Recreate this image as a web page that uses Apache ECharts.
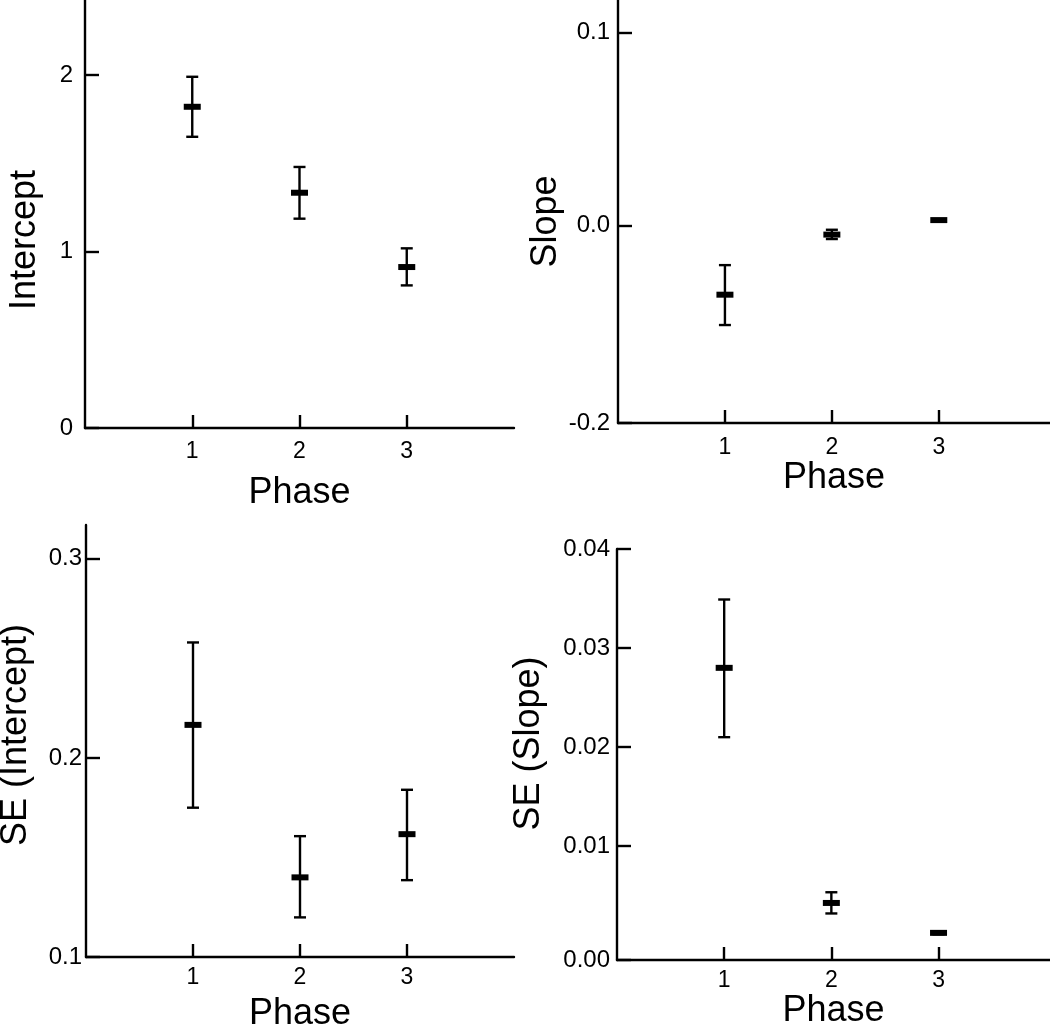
<!DOCTYPE html>
<html>
<head>
<meta charset="utf-8">
<script src="https://cdn.jsdelivr.net/npm/echarts@6/dist/echarts.min.js"></script>
<style>
html,body{margin:0;padding:0;background:#fff;}
#chart{width:1050px;height:1027px;}
</style>
</head>
<body>
<div id="chart"></div>
<script>
// ---- data ----
const phases = [1, 2, 3];
const phaseTickLabels = ['1', '2', '3'];

const interceptMean  = [1.82, 1.333, 0.912];
const interceptLow   = [1.65, 1.186, 0.808];
const interceptHigh  = [1.99, 1.479, 1.018];

const slopeMean  = [-0.0358, -0.0047, 0.0028];
const slopeLow   = [-0.0515, -0.0070, 0.0024];
const slopeHigh  = [-0.0205, -0.0022, 0.0032];

const seInterceptMean = [0.2166, 0.140, 0.1617];
const seInterceptLow  = [0.175, 0.1199, 0.1386];
const seInterceptHigh = [0.258, 0.1607, 0.184];

const seSlopeMean = [0.0280, 0.00426, 0.00124];
const seSlopeLow  = [0.0210, 0.0032, 0.0011];
const seSlopeHigh = [0.0349, 0.00534, 0.0014];

// tick values and the labels printed at them
const interceptTickValues = [0, 1, 2];
const interceptTickLabels = ['0', '1', '2'];
const slopeTickValues = [-0.1022, 0.0, 0.1];
const slopeTickLabels = ['-0.2', '0.0', '0.1'];
const seInterceptTickValues = [0.1, 0.2, 0.3];
const seInterceptTickLabels = ['0.1', '0.2', '0.3'];
const seSlopeTickValues = [-0.0015, 0.01, 0.02, 0.03, 0.04];
const seSlopeTickLabels = ['0.00', '0.01', '0.02', '0.03', '0.04'];

// ---- chart ----
const FONT = '"Liberation Sans", Arial, sans-serif';

function rows(mean, low, high) {
  return phases.map((p, i) => [p, mean[i], low[i], high[i]]);
}
function labeler(values, labels) {
  return function (v) {
    let best = 0;
    for (let i = 1; i < values.length; i++) {
      if (Math.abs(values[i] - v) < Math.abs(values[best] - v)) best = i;
    }
    return labels[best];
  };
}
function renderErr(params, api) {
  const x = api.value(0);
  const pm = api.coord([x, api.value(1)]);
  const pl = api.coord([x, api.value(2)]);
  const ph = api.coord([x, api.value(3)]);
  const cap = 6, mw = 17, mh = 6;
  const st = { stroke: '#000', lineWidth: 2.4 };
  return {
    type: 'group',
    children: [
      { type: 'line', shape: { x1: pl[0], y1: pl[1], x2: ph[0], y2: ph[1] }, style: st },
      { type: 'line', shape: { x1: pl[0] - cap, y1: pl[1], x2: pl[0] + cap, y2: pl[1] }, style: st },
      { type: 'line', shape: { x1: ph[0] - cap, y1: ph[1], x2: ph[0] + cap, y2: ph[1] }, style: st },
      { type: 'rect', shape: { x: pm[0] - mw / 2, y: pm[1] - mh / 2, width: mw, height: mh }, style: { fill: '#000' } }
    ]
  };
}

const axisLineStyle = { show: true, onZero: false, lineStyle: { color: '#000', width: 2.4 } };

function xAxisFor(gridIndex, max, labelMargin, nameGap) {
  return {
    gridIndex, type: 'value', min: 0, max,
    name: 'Phase', nameLocation: 'middle', nameGap,
    nameTextStyle: { fontFamily: FONT, fontSize: 36, color: '#000' },
    axisLine: axisLineStyle,
    axisTick: { show: true, inside: true, length: 13, lineStyle: { color: '#000', width: 2.4 }, customValues: phases },
    axisLabel: { show: true, margin: labelMargin, fontFamily: FONT, fontSize: 23, color: '#000',
      customValues: phases, formatter: labeler(phases, phaseTickLabels) },
    splitLine: { show: false }
  };
}
function yAxisFor(gridIndex, min, max, name, nameGap, shift, tickValues, tickLabels, labelMargin) {
  // shift > 0 moves the name down on screen, < 0 moves it up
  const pad = shift >= 0 ? [0, 2 * shift, 0, 0] : [0, 0, 0, -2 * shift];
  return {
    gridIndex, type: 'value', min, max,
    name, nameLocation: 'middle', nameGap,
    nameTextStyle: { fontFamily: FONT, fontSize: 36, color: '#000', padding: pad },
    axisLine: axisLineStyle,
    axisTick: { show: true, inside: true, length: 14, lineStyle: { color: '#000', width: 2.4 }, customValues: tickValues },
    axisLabel: { show: true, margin: labelMargin, fontFamily: FONT, fontSize: 24, color: '#000',
      customValues: tickValues, formatter: labeler(tickValues, tickLabels) },
    splitLine: { show: false }
  };
}

const chart = echarts.init(document.getElementById('chart'), null, { renderer: 'canvas' });
chart.setOption({
  backgroundColor: '#fff',
  animation: false,
  grid: [
    { left: 85, top: 0, width: 429, height: 428, outerBoundsMode: 'none', containLabel: false },
    { left: 618, top: 0, width: 432, height: 423, outerBoundsMode: 'none', containLabel: false },
    { left: 86, top: 525, width: 428, height: 432, outerBoundsMode: 'none', containLabel: false },
    { left: 617, top: 549, width: 433, height: 411, outerBoundsMode: 'none', containLabel: false }
  ],
  xAxis: [
    xAxisFor(0, 4.0, 12, 47),
    xAxisFor(1, 4.04, 13, 34),
    xAxisFor(2, 4.0, 9, 39),
    xAxisFor(3, 4.04, 9, 29)
  ],
  yAxis: [
    yAxisFor(0, 0, 2.425, 'Intercept', 42, 26, interceptTickValues, interceptTickLabels, 12),
    yAxisFor(1, -0.1022, 0.1167, 'Slope', 54, 10, slopeTickValues, slopeTickLabels, 8),
    yAxisFor(2, 0.1, 0.317, 'SE (Intercept)', 52, -6, seInterceptTickValues, seInterceptTickLabels, 4),
    yAxisFor(3, -0.0015, 0.04, 'SE (Slope)', 70, -11, seSlopeTickValues, seSlopeTickLabels, 7)
  ],
  series: [
    { type: 'custom', xAxisIndex: 0, yAxisIndex: 0, renderItem: renderErr, data: rows(interceptMean, interceptLow, interceptHigh), clip: false },
    { type: 'custom', xAxisIndex: 1, yAxisIndex: 1, renderItem: renderErr, data: rows(slopeMean, slopeLow, slopeHigh), clip: false },
    { type: 'custom', xAxisIndex: 2, yAxisIndex: 2, renderItem: renderErr, data: rows(seInterceptMean, seInterceptLow, seInterceptHigh), clip: false },
    { type: 'custom', xAxisIndex: 3, yAxisIndex: 3, renderItem: renderErr, data: rows(seSlopeMean, seSlopeLow, seSlopeHigh), clip: false }
  ]
});
</script>
</body>
</html>
